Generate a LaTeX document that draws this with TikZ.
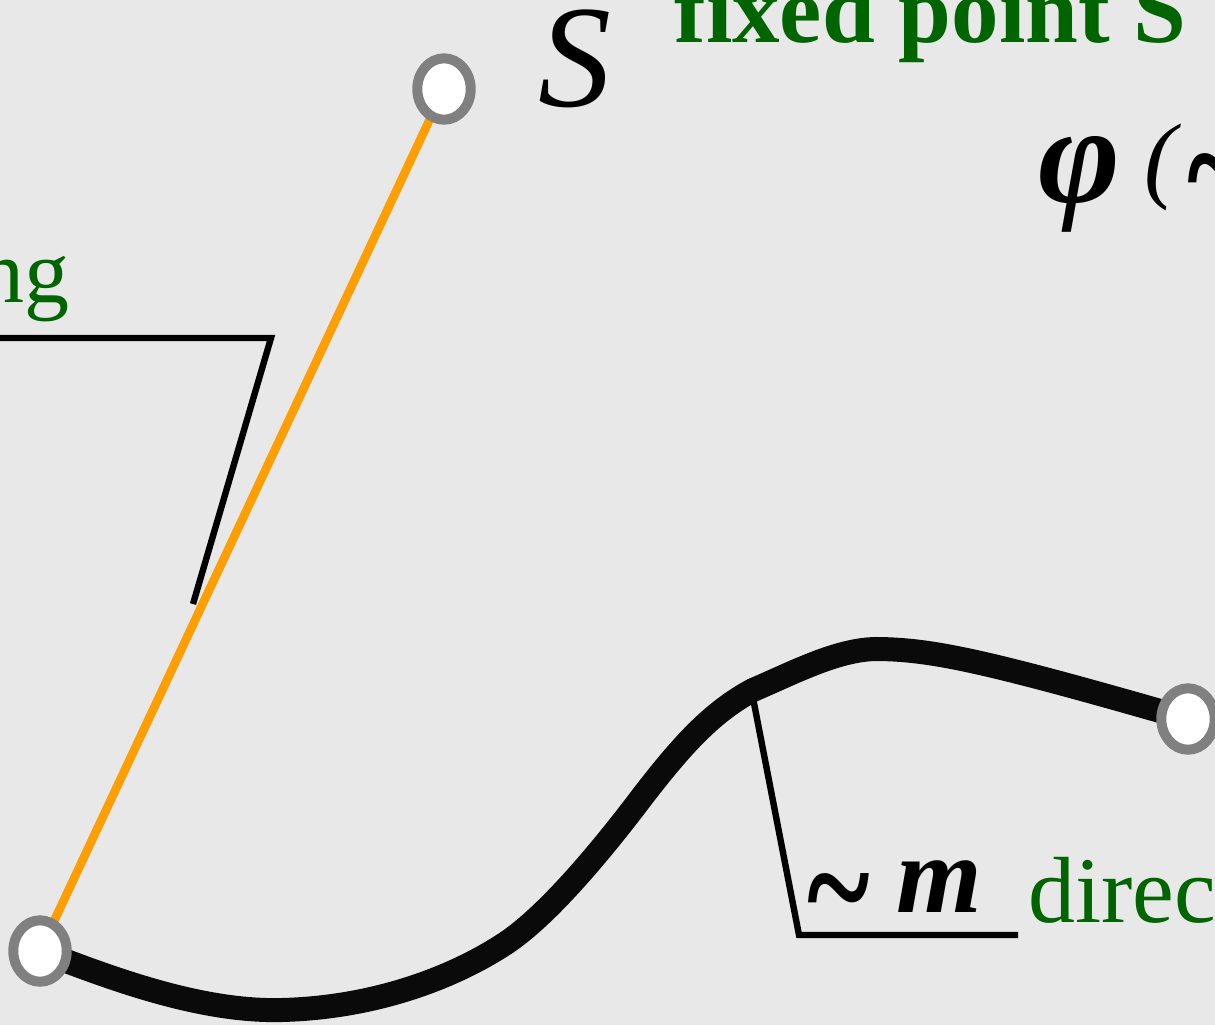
\documentclass[tikz,border=0pt]{standalone}
\usepackage{fontspec}
\setmainfont{Liberation Serif}
\usetikzlibrary{shapes.geometric}
\definecolor{bgcol}{RGB}{232,232,232}
\definecolor{lblgreen}{RGB}{0,100,0}
\definecolor{springorange}{RGB}{255,158,0}
\definecolor{ringgray}{RGB}{128,128,128}
\definecolor{curveblack}{RGB}{10,10,10}
\pgfdeclarelayer{bglayer}
\pgfdeclarelayer{linelayer}
\pgfsetlayers{bglayer,linelayer,main}
\begin{document}
\begin{tikzpicture}[x=0.5pt,y=-0.5pt,
  joint/.style={ellipse, draw=ringgray, fill=white, line width=5pt,
    minimum width=26.7pt, minimum height=30.7pt, inner sep=0pt},
  txt/.style={inner sep=0pt, anchor=base west},
  bigtilde/.style={txt, yscale=1.3, font=\fontsize{60}{66}\selectfont\bfseries\itshape},
  thinline/.style={line width=3.2pt, black},
  springline/.style={line width=4.3pt, springorange},
  thickcurve/.style={line width=12pt, curveblack}]
\useasboundingbox (0,0) rectangle (1215,1025);
\begin{pgfonlayer}{bglayer}
\fill[bgcol] (0,0) rectangle (1215,1025);
\end{pgfonlayer}

% joints
\node[joint] (A) at (40,951) {};
\node[joint] (S) at (444,89) {};
\node[joint] (B) at (1188,719) {};

% helper coordinates
\coordinate (K) at (753,690);
\coordinate (Kb) at (753,698);
\coordinate (C1) at (799,935);
\coordinate (C2) at (1018,935);
\coordinate (L0) at (-10,338);
\coordinate (L1) at (271,338);
\coordinate (L2) at (193,604);

\begin{pgfonlayer}{linelayer}
\draw[springline] (A.center) -- (S.center);
\draw[thinline] (L0) -- (L1) -- (L2);
\draw[thinline] (Kb) -- (C1) -- (C2);
\draw[thickcurve] (A.center)
  .. controls (110,978) and (200,1012) .. (281,1010)
  .. controls (370,1008) and (450,980) .. (506,943)
  .. controls (548,915) and (602,850) .. (642,797)
  .. controls (682,745) and (712,712) .. (K)
  .. controls (795,672) and (840,648) .. (880,649)
  .. controls (935,650) and (990,662) .. (B.center);
\end{pgfonlayer}

% labels
\node[txt, font=\fontsize{73}{80}\selectfont\itshape] (lblS) at (538,106) {S};
\node[txt, text=lblgreen, font=\fontsize{47.5}{52}\selectfont\bfseries] (lblfixed) at (674,42) {fixed point S};
\node[txt, font=\fontsize{70}{80}\selectfont\bfseries\itshape] (phi) at (1038,202) {φ};
\node[txt, font=\fontsize{48}{54}\selectfont\itshape] (par) at (1144,190) {(};
\node[bigtilde] (tlphi) at (1183,219) {\textasciitilde};
\node[inner sep=0pt, anchor=base east, text=lblgreen, font=\fontsize{45}{50}\selectfont] (ng) at (70,302) {ng};
\node[bigtilde] (tlm) at (803,939) {\textasciitilde};
\node[txt, font=\fontsize{55}{60}\selectfont\bfseries\itshape] (m) at (896,912) {m};
\node[txt, text=lblgreen, font=\fontsize{47}{52}\selectfont] (direc) at (1028,922) {direc};
\end{tikzpicture}
\end{document}
